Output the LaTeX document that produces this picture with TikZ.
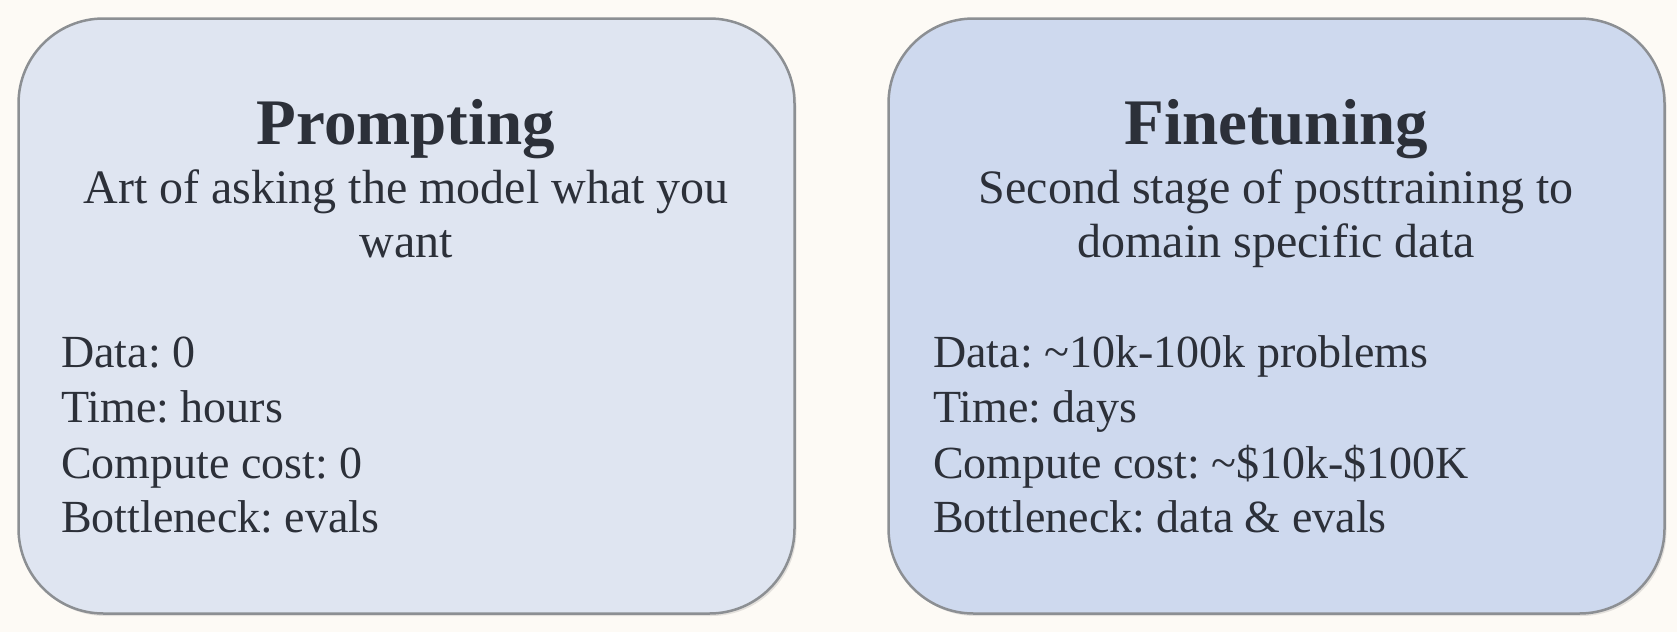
\documentclass[tikz,border=0pt]{standalone}
\usepackage{fontspec}
\setmainfont{Liberation Serif}
\frenchspacing
\definecolor{bgcol}{HTML}{FDFAF5}
\definecolor{leftfill}{HTML}{DFE5F1}
\definecolor{rightfill}{HTML}{CED9EE}
\definecolor{bordercol}{HTML}{8C8F93}
\definecolor{inkcol}{HTML}{2C3039}
\begin{document}
\begin{tikzpicture}[x=1pt,y=-1pt,
  panel/.style={draw=bordercol, line width=2.5pt, rounded corners=85pt,
    minimum width=776pt, minimum height=595pt, inner sep=0pt},
  panelshadow/.style={fill=black, opacity=0.10, rounded corners=85pt,
    minimum width=776pt, minimum height=595pt, inner sep=0pt},
  titletext/.style={anchor=base, text=inkcol, inner sep=0pt,
    font=\fontsize{65}{65}\selectfont\bfseries},
  subtext/.style={anchor=base, text=inkcol, inner sep=0pt,
    font=\fontsize{48}{54}\selectfont},
  bodytext/.style={anchor=base west, text=inkcol, inner sep=0pt,
    font=\fontsize{46}{54}\selectfont}]
\fill[bgcol] (0,0) rectangle (1677,632);
\useasboundingbox (0,0) rectangle (1677,632);
% shadows
\node[panelshadow] (pshadow) at (408.5,318.5) {};
\node[panelshadow] (fshadow) at (1278.5,318.5) {};
% panels
\node[panel, fill=leftfill] (pbox) at (406.5,316) {};
\node[panel, fill=rightfill] (fbox) at (1276.5,316) {};
% left panel text
\node[titletext] (ptitle) at (406,144) {Prompting};
\node[subtext] (psub1) at (406,203) {Art of asking the model what you};
\node[subtext] (psub2) at (406,257) {want};
\node[bodytext] (pdata) at (61,367) {Data: 0};
\node[bodytext] (ptime) at (61,422) {Time: hours};
\node[bodytext] (pcost) at (61,478) {Compute cost: 0};
\node[bodytext] (pbott) at (61,532) {Bottleneck: evals};
% right panel text
\node[titletext] (ftitle) at (1276,144) {Finetuning};
\node[subtext] (fsub1) at (1276,203) {Second stage of posttraining to};
\node[subtext] (fsub2) at (1276,257) {domain specific data};
\node[bodytext] (fdata) at (933,367) {Data: \textasciitilde10k-100k problems};
\node[bodytext] (ftime) at (933,422) {Time: days};
\node[bodytext] (fcost) at (933,478) {Compute cost: \textasciitilde\$10k-\$100K};
\node[bodytext] (fbott) at (933,532) {Bottleneck: data \& evals};
\end{tikzpicture}
\end{document}
